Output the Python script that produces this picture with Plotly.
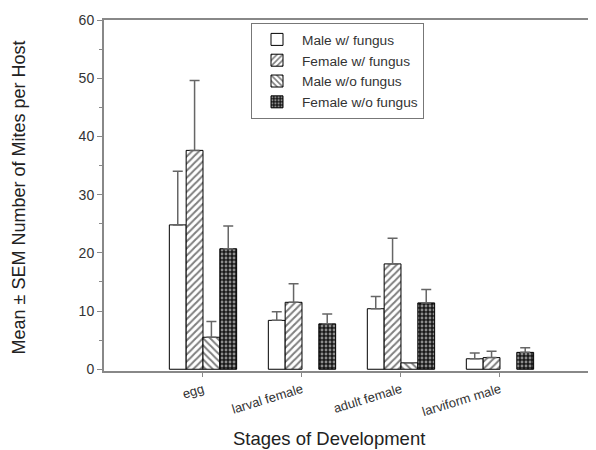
import plotly.graph_objects as go

stages = ["egg", "larval female", "adult female", "larviform male"]
positions = [1, 2, 3, 4]

series_names = ["Male w/ fungus", "Female w/ fungus", "Male w/o fungus", "Female w/o fungus"]
male_w = [24.8, 8.4, 10.4, 1.8]
male_w_err = [9.2, 1.5, 2.1, 1.0]
female_w = [37.6, 11.5, 18.1, 2.0]
female_w_err = [12.0, 3.2, 4.4, 1.1]
male_wo = [5.5, 0.0, 1.1, 0.0]
male_wo_err = [2.7, 0.0, 0.0, 0.0]
female_wo = [20.7, 7.8, 11.4, 2.9]
female_wo_err = [3.9, 1.7, 2.3, 0.8]

values = [male_w, female_w, male_wo, female_wo]
errors = [male_w_err, female_w_err, male_wo_err, female_wo_err]
patterns = [
    dict(shape="", bgcolor="white"),
    dict(shape="/", bgcolor="white", fgcolor="black", size=5, solidity=0.4),
    dict(shape="\\", bgcolor="white", fgcolor="black", size=5, solidity=0.4),
    dict(shape=".", bgcolor="#1a1a1a", fgcolor="white", size=4, solidity=0.4),
]

fig = go.Figure()
for name, v, e, p in zip(series_names, values, errors, patterns):
    vis_v = [val if val > 0 else None for val in v]
    fig.add_trace(go.Bar(
        x=positions, y=vis_v, name=name,
        marker=dict(color="white", line=dict(color="black", width=1), pattern=p),
        error_y=dict(type="data", array=[x if x > 0 else None for x in e],
                     arrayminus=[0] * len(e), symmetric=False,
                     color="#666666", thickness=1.5, width=5),
    ))

# page has an 8px body margin; figure sized to fit the window
fig.update_layout(
    width=588, height=442,
    margin=dict(l=96, r=0, t=12, b=79),
    paper_bgcolor="white", plot_bgcolor="white",
    barmode="group", bargap=0.32, bargroupgap=0,
    font=dict(family="Liberation Sans, Arial, sans-serif", color="#333333", size=12),
    showlegend=True,
    legend=dict(x=(251 - 104) / 492, y=(371 - 23) / 351, xanchor="left", yanchor="top",
                bordercolor="#777777", borderwidth=1, bgcolor="white",
                font=dict(size=13.7, color="#333333"), tracegroupgap=0,
                itemwidth=40, entrywidth=168),
    xaxis=dict(range=[0, 4.97], tickmode="array", tickvals=positions, ticktext=stages,
               tickangle=-17, showline=True, linecolor="#888888", linewidth=2,
               mirror=True, ticks="outside", ticklen=4, tickcolor="#888888",
               showgrid=False, zeroline=False, tickfont=dict(size=13),
               automargin=False),
    yaxis=dict(range=[-0.3, 60], tickvals=[0, 10, 20, 30, 40, 50, 60],
               showline=True, linecolor="#888888", linewidth=2, mirror=False,
               ticks="outside", ticklen=5, tickcolor="#888888",
               minor=dict(tickvals=[5, 15, 25, 35, 45, 55], ticks="outside", ticklen=3,
                          tickcolor="#888888"),
               showgrid=False, zeroline=False, tickfont=dict(size=14),
               automargin=False),
    annotations=[
        dict(text="Stages of Development", xref="paper", yref="paper",
             x=(329 - 104) / 492, y=(371 - 438) / 351, xanchor="center", yanchor="middle",
             showarrow=False, font=dict(size=18.5, color="#222222")),
        dict(text="Mean ± SEM Number of Mites per Host", xref="paper", yref="paper",
             x=(18 - 104) / 492, xanchor="center", y=(371 - 197.5) / 351, yanchor="middle",
             textangle=-90, showarrow=False, font=dict(size=18, color="#222222")),
    ],
)

fig.write_html("out.html")
